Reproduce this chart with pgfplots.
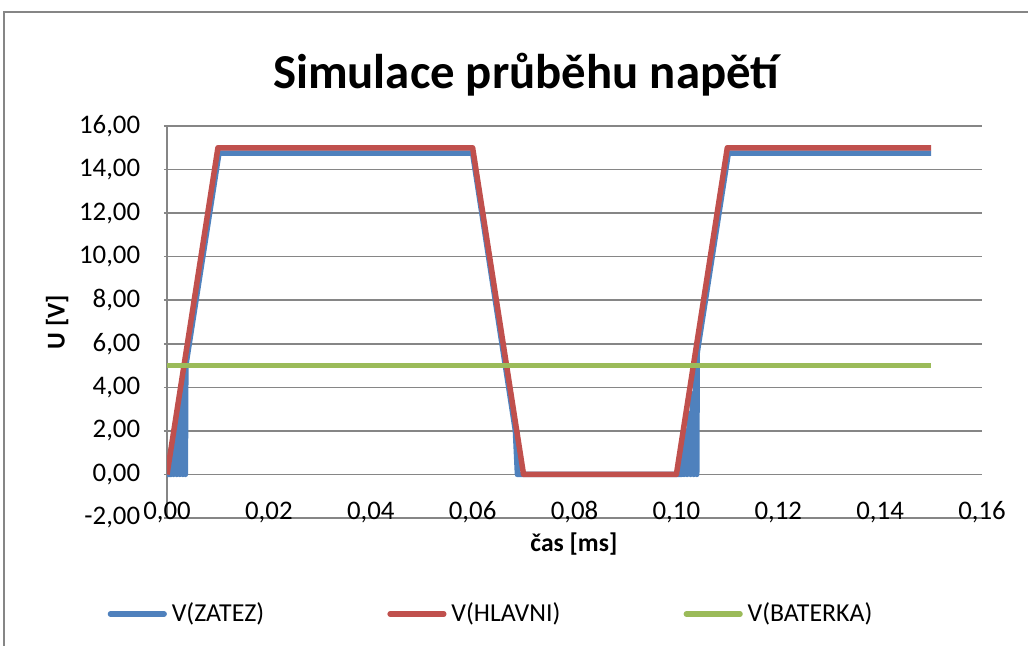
\documentclass[border=0pt]{standalone}
\usepackage{pgfplots}
\pgfplotsset{compat=1.18}
\usepackage{fontspec}
\setmainfont{Carlito}
\definecolor{cblue}{HTML}{4F81BD}
\definecolor{cred}{HTML}{C0504D}
\definecolor{cgreen}{HTML}{9BBB59}
\definecolor{cgrid}{HTML}{868686}
\begin{document}
\begin{tikzpicture}
\useasboundingbox (0pt,0pt) rectangle (421.48pt,-264.86pt);
\draw[cgrid, line width=0.6pt] (1.64pt,-270pt) -- (1.64pt,-4.92pt) -- (430pt,-4.92pt);
\node[anchor=base] at (215.66pt,-36.1pt) {\fontsize{20}{24}\selectfont\bfseries Simulace průběhu napětí};
\begin{axis}[
  at={(68.47pt,-212.38pt)}, anchor=south west,
  scale only axis, width=334.15pt, height=160.72pt,
  xmin=0, xmax=0.16, ymin=-2, ymax=16,
  xtick={0,0.02,0.04,0.06,0.08,0.1,0.12,0.14,0.16},
  ytick={-2,0,2,4,6,8,10,12,14,16},
  axis lines*=left,
  axis line style={cgrid, line width=0.6pt},
  ymajorgrids, grid style={cgrid, line width=0.6pt},
  xtick style={draw=none},
  ytick style={cgrid, line width=0.6pt},
  tick align=outside, major tick length=1.3pt,
  /pgf/number format/.cd, fixed, fixed zerofill, precision=2, use comma, assume math mode=true,
  /pgfplots/.cd,
  ticklabel style={font=\fontsize{11}{13}\selectfont},
  yticklabel style={anchor=east, inner sep=0pt, xshift=-9.5pt},
  xticklabel style={anchor=base, inner sep=0pt, yshift=0.8pt},
  legend columns=3,
  legend style={draw=none, at={(0.3994,-0.2449)}, anchor=center, font=\fontsize{10.6}{12}\selectfont,
    /tikz/every even column/.append style={column sep=48.5pt}},
  legend image code/.code={\draw[#1, line width=2.25pt, line cap=round] (0pt,0pt) -- (22pt,0pt);},
  every axis plot/.append style={line width=2.25pt, line join=round},
]
\addplot[cblue, no markers] coordinates {
 (0,0) (0.0008,0) (0.0011,1.2) (0.0013,0) (0.0017,2.2) (0.0019,0) (0.0023,3.0) (0.0025,0)
 (0.0029,3.9) (0.0031,0) (0.0034,4.8) (0.0036,0) (0.0037,5.0)
 (0.0102,14.75) (0.0600,14.75) (0.0684,2.0) (0.0688,0) (0.1010,0)
 (0.1013,1.0) (0.1015,0) (0.1019,1.9) (0.1021,0) (0.1026,2.8) (0.1028,0) (0.1032,3.7)
 (0.1034,0) (0.1038,4.6) (0.1040,0) (0.1041,5.6) (0.1102,14.75) (0.1500,14.75)
};
\addlegendentry{V(ZATEZ)}
\addplot[cred, no markers] coordinates {
 (0,0) (0.01,15) (0.06,15) (0.07,0) (0.10,0) (0.11,15) (0.15,15)
};
\addlegendentry{V(HLAVNI)}
\addplot[cgreen, no markers] coordinates {
 (0,5) (0.15,5)
};
\addlegendentry{V(BATERKA)}
\end{axis}
\node[rotate=90, font=\fontsize{10.5}{12}\selectfont\bfseries] at (23.4pt,-132pt) {U [V]};
\node[anchor=base, font=\fontsize{10.5}{12}\selectfont\bfseries] at (235.3pt,-226.3pt) {čas [ms]};
\end{tikzpicture}
\end{document}
